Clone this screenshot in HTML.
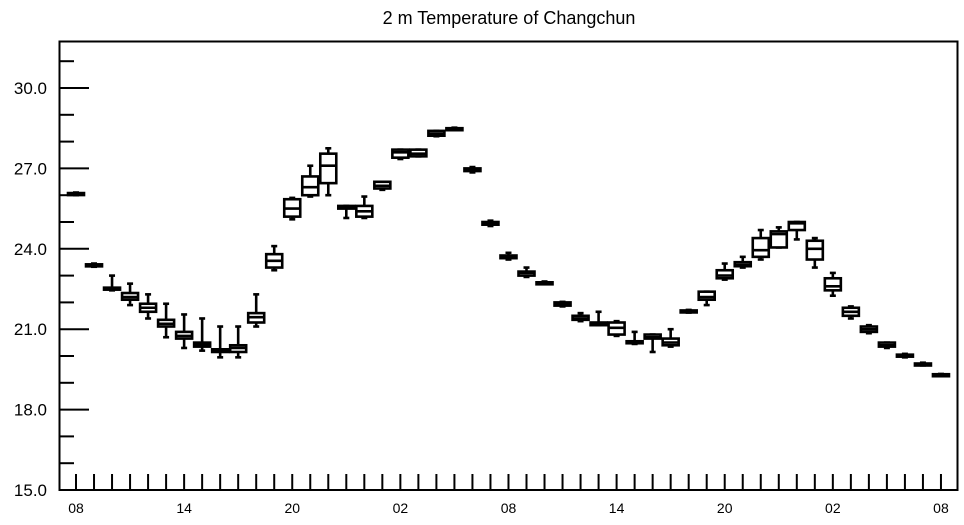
<!DOCTYPE html>
<html><head><meta charset="utf-8"><style>
body{margin:0;background:#fff;width:964px;height:520px;overflow:hidden}
svg text{font-family:"Liberation Sans",Arial,sans-serif;fill:#000}
</style></head><body>
<svg id="chart" width="964" height="520" xmlns="http://www.w3.org/2000/svg">
<text x="509" y="24" font-size="18" text-anchor="middle">2 m Temperature of Changchun</text>
<rect x="59.5" y="41.5" width="898" height="448.5" fill="none" stroke="#000" stroke-width="2"/>
<g id="axes"></g><g id="boxes"></g>
</svg>
<script>
const mins=[26.0,23.33,22.45,21.9,21.4,20.7,20.3,20.2,19.95,19.95,21.1,23.2,25.1,25.95,26.0,25.15,25.15,26.2,27.35,27.45,28.2,28.45,26.85,24.85,23.6,22.95,22.68,21.85,21.3,21.15,20.75,20.45,20.15,20.35,21.62,21.9,22.85,23.3,23.6,24.05,24.35,23.3,22.25,21.4,20.85,20.3,19.95,19.65,19.27];
const q1s=[26.02,23.35,22.48,22.1,21.65,21.1,20.65,20.35,20.15,20.15,21.25,23.3,25.2,26.0,26.45,25.5,25.2,26.25,27.4,27.45,28.22,28.46,26.9,24.9,23.65,23.0,22.7,21.88,21.35,21.15,20.8,20.48,20.65,20.4,21.64,22.1,22.9,23.35,23.7,24.05,24.7,23.6,22.45,21.5,20.9,20.35,19.98,19.67,19.28];
const meds=[26.05,23.38,22.5,22.2,21.8,21.2,20.75,20.42,20.2,20.3,21.45,23.55,25.5,26.3,27.1,25.55,25.4,26.35,27.6,27.55,28.3,28.48,26.95,24.95,23.7,23.1,22.72,21.95,21.4,21.2,21.05,20.5,20.7,20.5,21.67,22.2,23.0,23.4,23.95,24.55,24.95,24.0,22.6,21.65,21.0,20.4,20.02,19.7,19.3];
const q3s=[26.08,23.42,22.55,22.35,21.95,21.35,20.9,20.5,20.25,20.4,21.6,23.8,25.85,26.7,27.55,25.6,25.6,26.5,27.7,27.7,28.4,28.5,27.0,25.0,23.75,23.15,22.75,22.0,21.5,21.25,21.25,20.55,20.8,20.65,21.7,22.4,23.2,23.5,24.4,24.65,25.0,24.3,22.9,21.8,21.1,20.5,20.05,19.72,19.32];
const maxs=[26.1,23.45,23.0,22.7,22.3,21.95,21.55,21.4,21.1,21.1,22.3,24.1,25.9,27.1,27.75,25.6,25.95,26.5,27.7,27.7,28.4,28.52,27.05,25.05,23.85,23.3,22.78,22.02,21.6,21.65,21.3,20.9,20.8,21.0,21.72,22.4,23.45,23.7,24.7,24.8,25.0,24.4,23.1,21.85,21.15,20.5,20.08,19.75,19.33];
const yTicks=[15,18,21,24,27,30];
const xLabels=["08","14","20","02","08","14","20","02","08"];
const NS="http://www.w3.org/2000/svg";
const y=v=>490-(v-15)*26.8;
const x=i=>76+i*18.02;
function mk(t,a,p){const e=document.createElementNS(NS,t);for(const k in a)e.setAttribute(k,a[k]);p.appendChild(e);return e;}
const ax=document.getElementById('axes'),bx=document.getElementById('boxes');
for(let v=15;v<=31;v++){
 const maj=yTicks.includes(v);
 const l=mk('line',{x1:59,x2:maj?89:74,y1:y(v),y2:y(v),stroke:'#000','stroke-width':2},ax);
 
 
}
yTicks.forEach(v=>{const t=mk('text',{x:47,y:y(v)+6,'font-size':17,'text-anchor':'end'},ax);t.textContent=v.toFixed(1);
 
 });
for(let i=0;i<meds.length;i++){const l=mk('line',{x1:x(i),x2:x(i),y1:490,y2:474,stroke:'#000','stroke-width':2},ax);
 
 }
xLabels.forEach((s,k)=>{const t=mk('text',{x:x(k*6),y:513,'font-size':14,'text-anchor':'middle'},ax);t.textContent=s;
 
 });
for(let i=0;i<meds.length;i++){
 const g=mk('g',{stroke:'#000','stroke-width':2.6,fill:'#fff'},bx);
 
 
 const cx=x(i);
 mk('line',{x1:cx,x2:cx,y1:y(maxs[i]),y2:y(q3s[i])},g);
 mk('line',{x1:cx,x2:cx,y1:y(q1s[i]),y2:y(mins[i])},g);
 mk('line',{x1:cx-3,x2:cx+3,y1:y(maxs[i]),y2:y(maxs[i])},g);
 mk('line',{x1:cx-3,x2:cx+3,y1:y(mins[i]),y2:y(mins[i])},g);
 const top=y(q3s[i]),h=Math.max(y(q1s[i])-top,2);
 mk('rect',{x:cx-8,y:top,width:16,height:h},g);
 mk('line',{x1:cx-8,x2:cx+8,y1:y(meds[i]),y2:y(meds[i])},g);
}
</script>
</body></html>
